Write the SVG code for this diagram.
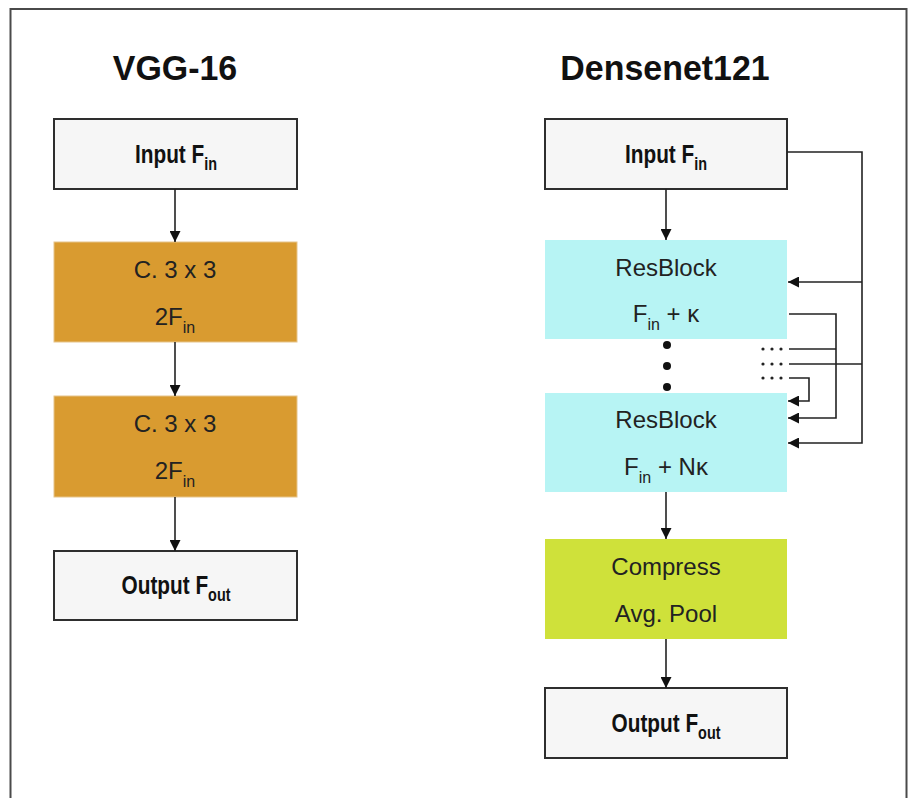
<svg xmlns="http://www.w3.org/2000/svg" width="912" height="798" viewBox="0 0 912 798">
  <style>
    .frame { fill: #ffffff; stroke: #4a4a4a; stroke-width: 2; }
    .io { fill: #f6f6f6; stroke: #2e2e2e; stroke-width: 2; }
    .conv { fill: #d99b30; stroke: #e6c48a; stroke-width: 1; }
    .res { fill: #b7f4f4; }
    .pool { fill: #cfe13a; }
    .title { font-family: "Liberation Sans", Arial, sans-serif; font-weight: bold; font-size: 35px; fill: #111; text-anchor: middle; }
    .lbl { font-family: "Liberation Sans", Arial, sans-serif; font-weight: bold; font-size: 26px; fill: #111; text-anchor: middle; }
    .lbl .sub { font-size: 18px; }
    .txt { font-family: "Liberation Sans", Arial, sans-serif; font-size: 24px; fill: #222; text-anchor: middle; }
    .txt .sub { font-size: 16px; }
    .wire { fill: none; stroke: #222; stroke-width: 1.6; }
    .dot { fill: #111; }
    .sdot { fill: #222; }
  </style>
  <defs>
    <marker id="arrow" viewBox="0 0 10 10" refX="10" refY="5" markerWidth="11" markerHeight="11" orient="auto" markerUnits="userSpaceOnUse">
      <path d="M0,0 L10,5 L0,10 z" fill="#111"/>
    </marker>
  </defs>

  <rect class="frame" x="10.5" y="9" width="896" height="800"/>

  <!-- column titles -->
  <text class="title" transform="translate(175,80) scale(0.97,1)">VGG-16</text>
  <text class="title" transform="translate(665,80) scale(0.97,1)">Densenet121</text>

  <!-- VGG-16 column -->
  <g id="vgg-input">
    <rect class="io" x="54" y="119" width="243" height="70"/>
    <text class="lbl" transform="translate(176,163) scale(0.8,1)">Input F<tspan class="sub" dy="7">in</tspan></text>
  </g>
  <g id="vgg-conv1">
    <rect class="conv" x="54" y="242" width="243" height="100"/>
    <text class="txt" x="175" y="278">C. 3 x 3</text>
    <text class="txt" x="175" y="325">2F<tspan class="sub" dy="8">in</tspan></text>
  </g>
  <g id="vgg-conv2">
    <rect class="conv" x="54" y="396" width="243" height="101"/>
    <text class="txt" x="175" y="432">C. 3 x 3</text>
    <text class="txt" x="175" y="479">2F<tspan class="sub" dy="8">in</tspan></text>
  </g>
  <g id="vgg-output">
    <rect class="io" x="54" y="551" width="243" height="69"/>
    <text class="lbl" transform="translate(176,594) scale(0.8,1)">Output F<tspan class="sub" dy="7">out</tspan></text>
  </g>

  <!-- Densenet121 column -->
  <g id="dn-input">
    <rect class="io" x="545" y="119" width="242" height="70"/>
    <text class="lbl" transform="translate(666,163) scale(0.8,1)">Input F<tspan class="sub" dy="7">in</tspan></text>
  </g>
  <g id="dn-resblock1">
    <rect class="res" x="545" y="240" width="242" height="99"/>
    <text class="txt" x="666" y="276">ResBlock</text>
    <text class="txt" x="666" y="322">F<tspan class="sub" dy="8">in</tspan><tspan dy="-8"> + κ</tspan></text>
  </g>
  <g id="dn-ellipsis">
    <circle class="dot" cx="667" cy="345" r="4"/>
    <circle class="dot" cx="667" cy="366" r="4"/>
    <circle class="dot" cx="667" cy="387" r="4"/>
    <circle class="sdot" cx="763" cy="349" r="1.6"/>
    <circle class="sdot" cx="772" cy="349" r="1.6"/>
    <circle class="sdot" cx="781" cy="349" r="1.6"/>
    <circle class="sdot" cx="763" cy="364" r="1.6"/>
    <circle class="sdot" cx="772" cy="364" r="1.6"/>
    <circle class="sdot" cx="781" cy="364" r="1.6"/>
    <circle class="sdot" cx="763" cy="378" r="1.6"/>
    <circle class="sdot" cx="772" cy="378" r="1.6"/>
    <circle class="sdot" cx="781" cy="378" r="1.6"/>
  </g>
  <g id="dn-resblockN">
    <rect class="res" x="545" y="393" width="242" height="99"/>
    <text class="txt" x="666" y="428">ResBlock</text>
    <text class="txt" x="666" y="475">F<tspan class="sub" dy="8">in</tspan><tspan dy="-8"> + Nκ</tspan></text>
  </g>
  <g id="dn-compress">
    <rect class="pool" x="545" y="539" width="242" height="100"/>
    <text class="txt" x="666" y="575">Compress</text>
    <text class="txt" x="666" y="622">Avg. Pool</text>
  </g>
  <g id="dn-output">
    <rect class="io" x="545" y="688" width="242" height="70"/>
    <text class="lbl" transform="translate(666,732) scale(0.8,1)">Output F<tspan class="sub" dy="7">out</tspan></text>
  </g>

  <!-- connectors -->
  <g id="connectors">
    <line class="wire" x1="175" y1="189" x2="175" y2="242" marker-end="url(#arrow)"/>
    <line class="wire" x1="175" y1="342" x2="175" y2="396" marker-end="url(#arrow)"/>
    <line class="wire" x1="175" y1="497" x2="175" y2="551" marker-end="url(#arrow)"/>

    <line class="wire" x1="666" y1="189" x2="666" y2="240" marker-end="url(#arrow)"/>
    <line class="wire" x1="666" y1="492" x2="666" y2="539" marker-end="url(#arrow)"/>
    <line class="wire" x1="666" y1="639" x2="666" y2="688" marker-end="url(#arrow)"/>

    <!-- dense skip connections -->
    <polyline class="wire" points="787,152 862,152 862,443 788,443" marker-end="url(#arrow)"/>
    <line class="wire" x1="862" y1="282" x2="788" y2="282" marker-end="url(#arrow)"/>
    <polyline class="wire" points="789,314 836,314 836,418 788,418" marker-end="url(#arrow)"/>
    <line class="wire" x1="789" y1="349" x2="836" y2="349"/>
    <line class="wire" x1="789" y1="364" x2="862" y2="364"/>
    <polyline class="wire" points="789,378 809,378 809,401 788,401" marker-end="url(#arrow)"/>
  </g>
</svg>
